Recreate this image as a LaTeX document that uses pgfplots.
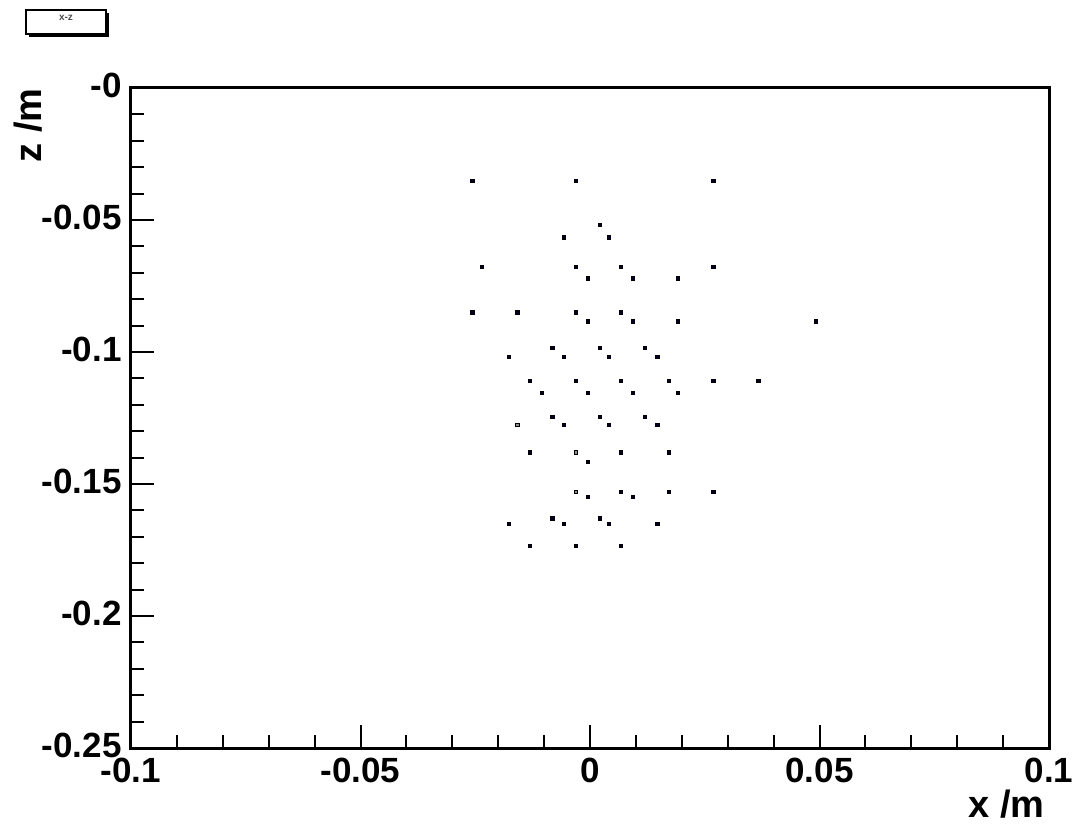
\documentclass[border=0pt]{standalone}
\usepackage{fontspec}
\setmainfont{Liberation Sans}
\usepackage{pgfplots}
\pgfplotsset{compat=1.18}
\begin{document}
\begin{tikzpicture}
\begin{axis}[
  scale only axis, width=459pt, height=330pt,
  at={(0,0)}, anchor=south west,
  xmin=-0.1, xmax=0.1, ymin=-0.25, ymax=0,
  xtick={-0.1,-0.05,0,0.05,0.1},
  xticklabels={-0.1,-0.05,0,0.05,0.1},
  ytick={-0.25,-0.2,-0.15,-0.1,-0.05,0},
  yticklabels={-0.25,-0.2,-0.15,-0.1,-0.05,-0},
  minor x tick num=4, minor y tick num=4,
  tick align=inside, xtick pos=left, ytick pos=left,
  major tick length=11.5pt, minor tick length=6.5pt,
  axis line style={line width=1.5pt, black},
  tick style={line width=1pt, black},
  xticklabel style={font=\fontsize{17.5}{20}\selectfont\bfseries, inner sep=0pt, anchor=north, yshift=-5pt},
  yticklabel style={font=\fontsize{17.5}{20}\selectfont\bfseries, inner sep=0pt, anchor=east, xshift=-4.5pt, yshift=1.5pt},
  scaled ticks=false,
  clip=false,
]
\addplot[only marks, mark=square*, mark size=0.8pt, mark options={fill=black!85!blue, draw=none}] coordinates {
(-0.0256,-0.0351) (-0.0031,-0.0351) (0.0269,-0.0351)
(-0.0057,-0.0566) (0.0022,-0.0518) (0.0041,-0.0566)
(-0.0235,-0.0679) (-0.0031,-0.0679) (-0.0004,-0.0721) (0.0067,-0.0679) (0.0093,-0.0721) (0.0192,-0.0721) (0.0269,-0.0679)
(-0.0256,-0.0850) (-0.0158,-0.0850) (-0.0031,-0.0850) (-0.0004,-0.0884) (0.0067,-0.0850) (0.0093,-0.0884) (0.0192,-0.0884) (0.0492,-0.0884)
(-0.0176,-0.1019) (-0.0082,-0.0985) (-0.0057,-0.1019) (0.0022,-0.0985) (0.0041,-0.1019) (0.0120,-0.0985) (0.0147,-0.1019)
(-0.0131,-0.1108) (-0.0031,-0.1108) (0.0067,-0.1108) (0.0172,-0.1108) (0.0269,-0.1108) (0.0367,-0.1108)
(-0.0104,-0.1156) (-0.0004,-0.1156) (0.0093,-0.1156) (0.0192,-0.1156)
(-0.0082,-0.1245) (-0.0057,-0.1277) (0.0022,-0.1245) (0.0041,-0.1277) (0.0120,-0.1245) (0.0147,-0.1277)
(-0.0131,-0.1380) (0.0067,-0.1380) (0.0172,-0.1380)
(-0.0004,-0.1416)
(-0.0004,-0.1548) (0.0067,-0.1529) (0.0093,-0.1548) (0.0172,-0.1529) (0.0269,-0.1529)
(-0.0176,-0.1652) (-0.0082,-0.1630) (-0.0057,-0.1652) (0.0022,-0.1630) (0.0041,-0.1652) (0.0147,-0.1652)
(-0.0131,-0.1734) (-0.0031,-0.1734) (0.0067,-0.1734)
};
\addplot[only marks, mark=square*, mark size=0.8pt, mark options={fill=black!45, draw=none}] coordinates {
(-0.0158,-0.1277) (-0.0031,-0.1380) (-0.0031,-0.1529)
};
\end{axis}
% axis titles
\node[font=\fontsize{19}{22}\selectfont\bfseries, anchor=base east, inner sep=0pt] at (457pt,-34.5pt) {x /m};
\node[font=\fontsize{19}{22}\selectfont\bfseries, anchor=base east, rotate=90, inner sep=0pt] at (-44.5pt,330pt) {z /m};
% title box
\fill[black] (-51pt,355.5pt) rectangle (-11pt,367.5pt);
\draw[line width=0.8pt, fill=white] (-52.5pt,357pt) rectangle (-12.5pt,369pt);
\node[font=\fontsize{5}{6}\selectfont\bfseries, inner sep=0pt, text=black!70] at (-32.5pt,365pt) {x-z};
\pgfresetboundingbox
\path (-65.5pt,-38.5pt) rectangle (480pt,374pt);
\end{tikzpicture}
\end{document}
